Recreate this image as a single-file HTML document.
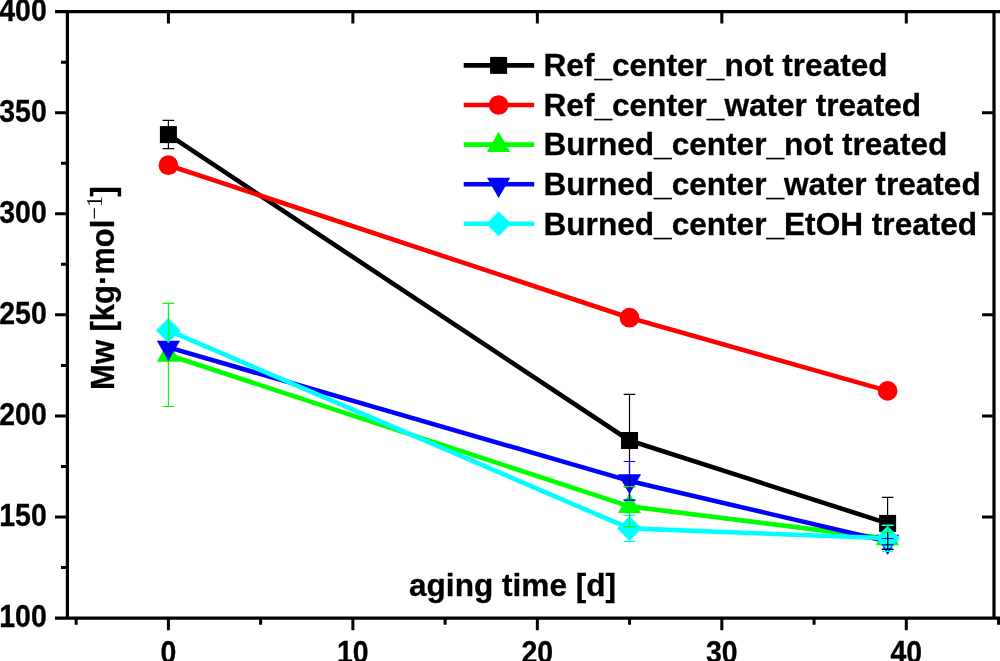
<!DOCTYPE html>
<html><head><meta charset="utf-8"><title>Mw vs aging time</title>
<style>
html,body{margin:0;padding:0;background:#fff;overflow:hidden}
svg{display:block}
text{font-family:"Liberation Sans",sans-serif;font-weight:bold;fill:#000;stroke:#000;stroke-width:0.3px}
.tk{font-size:28.5px}
.lg{font-size:31.6px}
.sup{stroke:none;font-family:"Liberation Serif",serif;font-weight:normal;font-size:22.5px}
</style></head><body>
<svg width="1000" height="661" viewBox="0 0 1000 661">
<rect x="0" y="0" width="1000" height="661" fill="#ffffff"/>

<g id="data" fill="none" stroke-linejoin="round">
<polyline points="168.40,134.60 629.50,440.50 887.60,523.40" stroke="#000000" stroke-width="4.6" fill="none"/>
<rect x="159.90" y="126.10" width="17.0" height="17.0" fill="#000000"/>
<rect x="621.00" y="432.00" width="17.0" height="17.0" fill="#000000"/>
<rect x="879.10" y="514.90" width="17.0" height="17.0" fill="#000000"/>
<polyline points="168.40,165.20 629.50,317.70 887.60,390.90" stroke="#ff0000" stroke-width="4.6" fill="none"/>
<circle cx="168.40" cy="165.20" r="9.85" fill="#ff0000"/>
<circle cx="629.50" cy="317.70" r="9.85" fill="#ff0000"/>
<circle cx="887.60" cy="390.90" r="9.85" fill="#ff0000"/>
<polyline points="168.40,355.00 629.50,506.40 887.60,538.60" stroke="#00ff00" stroke-width="4.6" fill="none"/>
<polygon points="156.80,361.70 180.00,361.70 168.40,341.60" fill="#00ff00"/>
<polygon points="617.90,513.10 641.10,513.10 629.50,493.00" fill="#00ff00"/>
<polygon points="876.00,545.30 899.20,545.30 887.60,525.20" fill="#00ff00"/>
<polyline points="168.40,347.40 629.50,480.90 887.60,541.50" stroke="#0000ff" stroke-width="4.6" fill="none"/>
<polygon points="156.80,340.70 180.00,340.70 168.40,360.80" fill="#0000ff"/>
<polygon points="617.90,474.20 641.10,474.20 629.50,494.30" fill="#0000ff"/>
<polygon points="876.00,534.80 899.20,534.80 887.60,554.90" fill="#0000ff"/>
<polyline points="168.40,330.40 629.50,528.40 887.60,538.20" stroke="#00ffff" stroke-width="4.6" fill="none"/>
<polygon points="156.00,330.40 168.40,318.00 180.80,330.40 168.40,342.80" fill="#00ffff"/>
<polygon points="617.10,528.40 629.50,516.00 641.90,528.40 629.50,540.80" fill="#00ffff"/>
<polygon points="875.20,538.20 887.60,525.80 900.00,538.20 887.60,550.60" fill="#00ffff"/>
</g>
<g id="err" fill="none" stroke-width="1.2">
<path d="M168.40,120.40V148.60M162.60,120.40h11.6M162.60,148.60h11.6" stroke="#000000"/>
<path d="M168.40,303.40V406.50M162.60,303.40h11.6M162.60,406.50h11.6" stroke="#00ff00"/>
<path d="M168.40,343.00V360.60" stroke="#0000ff" stroke-width="2.2"/>
<path d="M629.50,394.40V486.60M623.70,394.40h11.6M623.70,486.60h11.6" stroke="#000000"/>
<path d="M629.50,461.50V500.20M623.70,461.50h11.6M623.70,500.20h11.6" stroke="#0000ff"/>
<path d="M629.50,474.40V486.60" stroke="#000030"/>
<path d="M629.50,515.40V541.40M623.70,515.40h11.6M623.70,541.40h11.6" stroke="#00ffff"/>
<path d="M629.50,486.60V526.70M623.70,486.60h11.6M623.70,526.70h11.6" stroke="#00ff00"/>
<path d="M629.50,486.60V500.20" stroke="#0000ff"/>
<path d="M623.7,500.2h11.6" stroke="#0000ff"/>
<path d="M887.60,497.40V549.40M881.80,497.40h11.6M881.80,549.40h11.6" stroke="#000000"/>
<path d="M887.60,525.40V551.30M881.80,525.40h11.6M881.80,551.30h11.6" stroke="#00ffff"/>
<path d="M887.60,525.40V544.90M881.80,525.40h11.6M881.80,544.90h11.6" stroke="#00ff00"/>
<path d="M881.8,525.4h11.6" stroke="#00ffff"/>
<path d="M881.8,532.3h11.6" stroke="#00ff00"/>
<path d="M887.60,538.50V544.90M881.80,538.50h11.6M881.80,544.90h11.6" stroke="#0000ff"/>
<path d="M887.60,532.30V549.40" stroke="#000000"/>
<path d="M881.8,549.4h11.6" stroke="#000"/>
</g>
<g id="axes" stroke="#000" stroke-width="3.2" fill="none">
<path d="M55,11.6H1001M55,618.2H1001M67.4,11.6V618.2M994.0,11.6V618.2"/>
<path d="M55,516.95H67.4M982.0,516.95H994.0M55,415.90H67.4M982.0,415.90H994.0M55,314.85H67.4M982.0,314.85H994.0M55,213.80H67.4M982.0,213.80H994.0M55,112.75H67.4M982.0,112.75H994.0M61,567.48H67.4M61,466.43H67.4M61,365.38H67.4M61,264.32H67.4M61,163.28H67.4M61,62.23H67.4M168.40,618.2V630.2M168.40,11.6V23.6M352.88,618.2V630.2M352.88,11.6V23.6M537.35,618.2V630.2M537.35,11.6V23.6M721.83,618.2V630.2M721.83,11.6V23.6M906.30,618.2V630.2M906.30,11.6V23.6M76.16,618.2V624.7M260.64,618.2V624.7M445.11,618.2V624.7M629.59,618.2V624.7M814.06,618.2V624.7M998.54,618.2V624.7" stroke-width="3"/>
</g>
<g id="ticklabels" class="tk">
<text transform="translate(46.8,627.10) scale(1,1.1)" text-anchor="end">100</text>
<text transform="translate(46.8,526.05) scale(1,1.1)" text-anchor="end">150</text>
<text transform="translate(46.8,425.00) scale(1,1.1)" text-anchor="end">200</text>
<text transform="translate(46.8,323.95) scale(1,1.1)" text-anchor="end">250</text>
<text transform="translate(46.8,222.90) scale(1,1.1)" text-anchor="end">300</text>
<text transform="translate(46.8,121.85) scale(1,1.1)" text-anchor="end">350</text>
<text transform="translate(46.8,20.80) scale(1,1.1)" text-anchor="end">400</text>
<text transform="translate(168.40,663) scale(1,1.1)" text-anchor="middle">0</text>
<text transform="translate(352.88,663) scale(1,1.1)" text-anchor="middle">10</text>
<text transform="translate(537.35,663) scale(1,1.1)" text-anchor="middle">20</text>
<text transform="translate(721.83,663) scale(1,1.1)" text-anchor="middle">30</text>
<text transform="translate(906.30,663) scale(1,1.1)" text-anchor="middle">40</text>
</g>
<g id="titles" class="lg">
<text transform="translate(409,596.1) scale(1,1.01)">aging time [d]</text>
<text transform="translate(113.5,389.9) rotate(-90) scale(0.98,1.03)">Mw [kg·mol<tspan class="sup" dy="-10.8" dx="0.3">−1</tspan><tspan dy="10.8" dx="-0.6">]</tspan></text>
</g>
<g id="legend" class="lg">
<path d="M463.7,65.4H534.2" stroke="#000000" stroke-width="4.6"/>
<rect x="490.10" y="56.90" width="17.0" height="17.0" fill="#000000"/>
<text x="543.5" y="76.20">Ref_center_not treated</text>
<path d="M463.7,105.0H534.2" stroke="#ff0000" stroke-width="4.6"/>
<circle cx="498.60" cy="105.00" r="9.85" fill="#ff0000"/>
<text x="543.5" y="115.80">Ref_center_water treated</text>
<path d="M463.7,144.6H534.2" stroke="#00ff00" stroke-width="4.6"/>
<polygon points="487.00,151.90 510.20,151.90 498.60,131.80" fill="#00ff00"/>
<text x="543.5" y="155.40">Burned_center_not treated</text>
<path d="M463.7,184.2H534.2" stroke="#0000ff" stroke-width="4.6"/>
<polygon points="487.00,177.80 510.20,177.80 498.60,197.90" fill="#0000ff"/>
<text x="543.5" y="195.00">Burned_center_water treated</text>
<path d="M463.7,223.8H534.2" stroke="#00ffff" stroke-width="4.6"/>
<polygon points="486.20,223.80 498.60,211.40 511.00,223.80 498.60,236.20" fill="#00ffff"/>
<text x="543.5" y="234.60">Burned_center_EtOH treated</text>
</g>
</svg></body></html>
